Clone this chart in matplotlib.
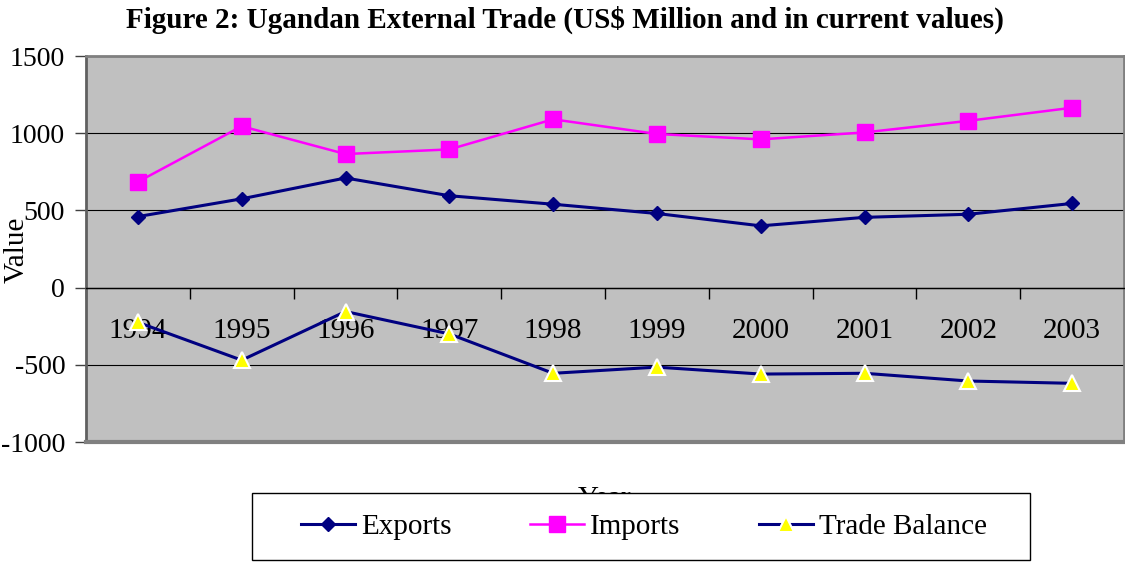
import numpy as np
import matplotlib
matplotlib.use('Agg')
import matplotlib.pyplot as plt
from matplotlib.patches import Rectangle
from matplotlib.ticker import FixedLocator, NullFormatter

# data (US$ million)
years = ['1994', '1995', '1996', '1997', '1998', '1999', '2000', '2001', '2002', '2003']
exports = [460, 575, 710, 595, 540, 480, 400, 455, 475, 545]
imports = [685, 1045, 865, 895, 1090, 995, 960, 1005, 1080, 1165]
trade_balance = [-225, -470, -155, -300, -555, -515, -560, -555, -605, -620]

plt.rcParams['font.family'] = ['Liberation Serif', 'DejaVu Serif']
plt.rcParams['axes.unicode_minus'] = False

fig = plt.figure(figsize=(11.25, 5.63), dpi=100)
ax = fig.add_axes([86 / 1125, 121 / 563, 1038 / 1125, 386 / 563])
ax.set_facecolor('#C0C0C0')

x = np.arange(len(years))
navy = '#000080'
ax.plot(x, exports, color=navy, lw=2.2, marker='D', ms=7.5, mfc=navy, mec=navy,
        label='Exports', zorder=4)
ax.plot(x, imports, color='#FF00FF', lw=1.8, marker='s', ms=11, mfc='#FF00FF',
        mec='#FF00FF', label='Imports', zorder=4)
ax.plot(x, trade_balance, color=navy, lw=2.2, marker='^', ms=11, mfc='#FFFF00',
        mec='white', mew=1.5, label='Trade Balance', zorder=4)

ax.set_xlim(-0.5, len(years) - 0.5)
ax.set_ylim(-1000, 1500)
ax.set_yticks(np.arange(-1000, 1501, 500))
ax.tick_params(axis='y', labelsize=20, length=8, width=1, color='#404040', pad=7)
ax.yaxis.grid(True, color='black', lw=0.8)
ax.set_axisbelow(True)

# category axis sitting on the zero line, ticks between categories
ax.spines['bottom'].set_position(('data', 0))
ax.spines['bottom'].set_color('black')
ax.spines['bottom'].set_linewidth(1)
ax.xaxis.set_major_locator(FixedLocator(x))
ax.set_xticklabels(years)
ax.xaxis.set_minor_locator(FixedLocator(np.arange(-0.5, len(years), 1.0)))
ax.xaxis.set_minor_formatter(NullFormatter())
ax.tick_params(axis='x', which='major', length=0, labelsize=21, pad=22)
ax.tick_params(axis='x', which='minor', length=8, width=1, color='black')
for lbl in ax.get_xticklabels():
    lbl.set_zorder(5)

for s in ['top', 'right']:
    ax.spines[s].set_color('#808080')
    ax.spines[s].set_linewidth(2)
ax.spines['left'].set_color('#606060')
ax.spines['left'].set_linewidth(2)
# bottom frame line of the plot area
ax.axhline(-1000, color='#808080', lw=3, clip_on=False, zorder=6)

fig.text(17 / 1125, 1 - 250 / 563, 'Value', rotation=90, ha='center', va='center', fontsize=21)
fig.text(605 / 1125, 1 - 499 / 563, 'Year', ha='center', va='center', fontsize=21, zorder=1)

fig.text(565 / 1125, 1 - 20 / 563, 'Figure 2: Ugandan External Trade (US$ Million and in current values)',
         ha='center', va='center', fontsize=21, fontweight='bold')

# legend box (drawn separately so it can be wider than the entries)
box = Rectangle((252 / 1125, 3 / 563), 778 / 1125, 67 / 563, transform=fig.transFigure,
                facecolor='white', edgecolor='black', lw=1, zorder=8)
fig.patches.append(box)

leg = fig.legend(loc='center', bbox_to_anchor=(644 / 1125, 1 - 527 / 563), ncol=3,
                 fontsize=21, frameon=False, handlelength=1.85, handletextpad=0.2,
                 columnspacing=2.7)
leg.set_zorder(10)

fig.savefig('out.png', dpi=100)
